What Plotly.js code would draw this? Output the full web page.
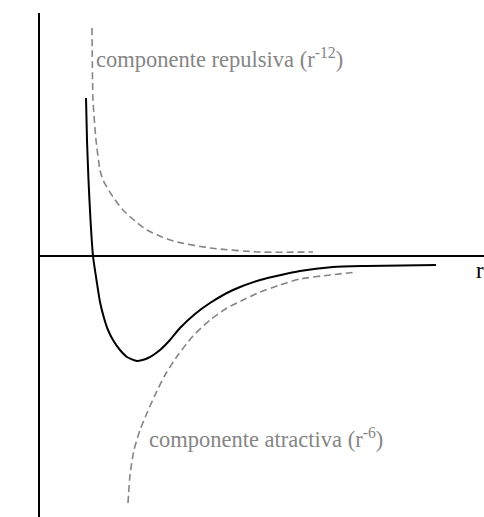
<!DOCTYPE html>
<html>
<head>
<meta charset="utf-8">
<script src="https://cdn.plot.ly/plotly-3.0.1.min.js"></script>
<style>
  html, body { margin: 0; padding: 0; background: #fff; }
  #chart { width: 484px; height: 517px; }
</style>
</head>
<body>
<div id="chart"></div>
<script>
// Lennard-Jones sketch, values (arbitrary units)
const totalR = [46, 47, 48.5, 50.5, 53, 56.5, 60, 64, 68, 73, 80, 87, 97, 108, 120, 130, 140, 155, 170, 193, 220, 260, 293, 327, 396];
const totalE = [158, 116, 76, 36, 0, -24, -46, -62, -74, -84, -94, -101, -105, -102, -94, -84, -72, -58, -47, -34, -24, -15, -11, -10, -9];

const repR = [52, 53, 56, 60, 63, 73, 83, 95, 107, 122, 137, 170, 220, 273];
const repE = [228, 156, 116, 86, 76, 59, 46, 35, 26, 19, 14, 8, 4, 4];

const attR = [88, 90, 94, 100, 107, 115, 125, 138, 153, 170, 187, 205, 220, 240, 260, 290, 317];
const attE = [-247, -219, -194, -174, -157, -139, -119, -99, -80, -64, -52, -43, -36, -29, -23, -19, -16];

const labelRep = "componente repulsiva (r<sup>-12</sup>)";
const labelAtt = "componente atractiva (r<sup>-6</sup>)";

const grey = "#858585";
const serif = "Liberation Serif, Times New Roman, serif";

const traces = [
  {
    type: "scatter", mode: "lines", x: repR, y: repE,
    line: { color: grey, width: 1.6, dash: "7px,4px", shape: "spline", smoothing: 0.6 },
    hoverinfo: "skip",
  },
  {
    type: "scatter", mode: "lines", x: attR, y: attE,
    line: { color: grey, width: 1.6, dash: "7px,4px", shape: "spline", smoothing: 0.6 },
    hoverinfo: "skip",
  },
  {
    type: "scatter", mode: "lines", x: totalR, y: totalE,
    line: { color: "#000", width: 2, shape: "spline", smoothing: 0.6 },
    hoverinfo: "skip",
  },
];

const layout = {
  width: 484,
  height: 517,
  margin: { l: 40, r: 0, t: 13, b: 0 },
  paper_bgcolor: "#fff",
  plot_bgcolor: "#fff",
  showlegend: false,
  hovermode: false,
  font: { family: serif, size: 22.5, color: "#000" },
  xaxis: {
    range: [0, 444], fixedrange: true,
    showgrid: false, zeroline: false, showline: false,
    showticklabels: false, ticks: "",
  },
  yaxis: {
    range: [-261, 243], fixedrange: true,
    showgrid: false, showticklabels: false, ticks: "",
    showline: true, linecolor: "#000", linewidth: 2,
    zeroline: true, zerolinecolor: "#000", zerolinewidth: 2,
  },
  annotations: [
    { text: "E", x: -21, y: 219, xref: "x", yref: "y", showarrow: false,
      font: { family: serif, size: 22, color: "#000" } },
    { text: "r", x: 440, y: -14, xref: "x", yref: "y", showarrow: false,
      font: { family: serif, size: 23, color: "#000" } },
    { text: labelRep, x: 54, y: 198, xref: "x", yref: "y", showarrow: false,
      xanchor: "left", font: { family: serif, size: 22.5, color: grey } },
    { text: labelAtt, x: 107, y: -182, xref: "x", yref: "y", showarrow: false,
      xanchor: "left", font: { family: serif, size: 22.5, color: grey } },
  ],
};

Plotly.newPlot("chart", traces, layout, { displayModeBar: false, responsive: false });
</script>
</body>
</html>
